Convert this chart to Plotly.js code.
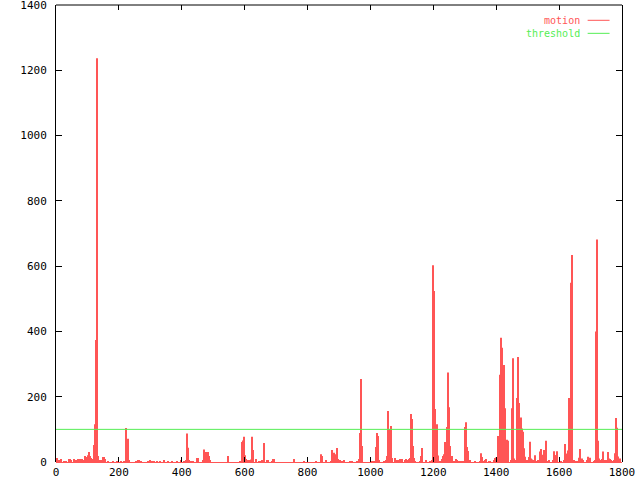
<!DOCTYPE html>
<html>
<head>
<meta charset="utf-8">
<script src="https://cdn.plot.ly/plotly-3.0.1.min.js"></script>
<style>html,body{margin:0;padding:0;background:#fff;}#chart{width:640px;height:480px;}</style>
</head>
<body>
<div id="chart"></div>
<script>
// motion samples (frame, value)
const frames = [3,6,10,16,25,32,41,45,48,57,60,67,70,76,83,86,92,95,99,102,105,108,111,114,121,124,127,130,134,137,143,149,153,156,165,181,194,207,216,223,226,229,232,254,261,264,270,293,299,302,305,312,321,331,343,356,369,385,398,407,413,417,420,423,429,436,448,452,467,471,474,477,480,483,487,490,547,585,588,592,595,598,601,604,607,611,614,617,620,623,626,636,646,652,655,658,661,671,674,687,690,693,757,789,827,843,846,859,875,878,881,884,887,890,894,897,903,910,916,935,941,957,960,964,967,970,973,1005,1008,1011,1014,1018,1021,1024,1027,1043,1046,1049,1053,1056,1059,1062,1065,1069,1078,1084,1091,1094,1097,1100,1110,1113,1116,1123,1126,1129,1132,1135,1139,1142,1158,1161,1164,1177,1189,1193,1196,1199,1202,1205,1208,1212,1215,1218,1221,1224,1228,1231,1234,1237,1240,1243,1247,1250,1253,1256,1259,1266,1272,1275,1278,1285,1291,1298,1301,1304,1307,1310,1313,1317,1332,1348,1352,1355,1361,1364,1367,1377,1380,1393,1396,1399,1402,1406,1409,1412,1415,1418,1422,1425,1428,1431,1434,1437,1447,1450,1453,1457,1463,1466,1469,1472,1476,1479,1482,1485,1488,1492,1498,1501,1504,1507,1511,1514,1520,1523,1530,1533,1536,1539,1542,1546,1549,1552,1555,1558,1565,1568,1581,1584,1587,1590,1593,1606,1616,1619,1622,1625,1628,1631,1635,1638,1641,1647,1651,1654,1660,1663,1666,1673,1676,1689,1692,1698,1711,1714,1717,1720,1724,1727,1730,1733,1736,1740,1743,1749,1752,1755,1759,1762,1765,1771,1775,1778,1781,1784,1787,1790,1794];
const motion = [12,6,5,9,3,3,9,9,5,9,6,5,9,9,9,5,18,15,5,21,31,18,12,9,52,116,374,1237,18,6,5,15,15,9,3,3,3,3,3,104,12,71,5,3,5,5,3,3,5,3,3,3,3,3,5,3,3,3,6,3,5,87,44,6,3,3,12,12,6,38,24,31,28,31,18,6,18,3,3,61,66,77,21,9,5,5,5,5,8,77,37,9,3,3,5,5,58,6,6,3,9,9,9,3,3,24,18,6,3,37,24,28,5,24,43,9,5,3,5,3,3,3,3,9,89,254,49,3,3,3,3,46,89,80,6,3,3,6,18,156,83,101,110,12,12,5,5,9,3,9,5,9,6,9,12,147,132,49,12,3,3,18,43,6,3,3,6,603,524,162,24,116,20,3,3,3,9,18,24,61,49,107,274,168,49,12,18,3,9,6,3,3,3,3,107,122,46,34,3,6,3,3,27,15,3,5,9,3,3,6,12,14,9,80,12,267,381,350,196,297,165,41,68,65,6,165,318,11,6,196,322,181,70,136,103,93,42,16,6,6,15,62,11,8,6,21,3,6,3,32,40,16,22,37,22,65,3,5,5,33,21,21,33,3,6,55,25,25,35,196,113,549,634,6,3,3,3,13,40,11,6,5,16,13,3,6,400,682,65,11,3,6,9,32,6,6,3,31,11,9,6,3,5,27,135,105,17,6,11,6];
const thresholdX = [0, 1800];
const thresholdY = [100, 100];
const xTicks = [0,200,400,600,800,1000,1200,1400,1600,1800];
const yTicks = [0,200,400,600,800,1000,1200,1400];

const RED = '#ff5555';
const GREEN = '#55ee55';
const FONT = 'DejaVu Sans Mono, Liberation Mono, monospace';

const traces = [
  {type:'bar', x:frames, y:motion, width:3.2, name:'motion',
   marker:{color:RED, line:{width:0}}, showlegend:false, hoverinfo:'skip'},
  {type:'scatter', mode:'lines', x:thresholdX, y:thresholdY, name:'threshold',
   line:{color:GREEN, width:1}, showlegend:false, hoverinfo:'skip'}
];

const layout = {
  width:640, height:480,
  margin:{l:56, r:18, t:5, b:18, pad:0},
  paper_bgcolor:'#ffffff', plot_bgcolor:'#ffffff',
  font:{family:FONT, size:11, color:'#000'},
  showlegend:false,
  xaxis:{range:[0,1800], tickvals:xTicks, ticktext:xTicks.map(String),
    ticks:'inside', ticklen:5, tickcolor:'#000', tickwidth:1,
    showline:false, mirror:'ticks', showgrid:false, zeroline:false,
    ticklabelstandoff:2, ticklabeloverflow:'allow'},
  yaxis:{range:[0,1400], tickvals:yTicks, ticktext:yTicks.map(String),
    ticks:'inside', ticklen:6, tickcolor:'#000', tickwidth:1,
    showline:true, linecolor:'#000', linewidth:1, mirror:'ticks',
    showgrid:false, zeroline:true, zerolinecolor:RED, zerolinewidth:1,
    ticklabelstandoff:6, ticklabeloverflow:'allow'},
  shapes:[
    {type:'line', xref:'paper', yref:'paper', x0:0, x1:1, y0:1, y1:1, line:{color:'#000', width:1}},
    {type:'line', xref:'paper', yref:'paper', x0:0.9393, x1:0.9780, y0:0.9665, y1:0.9665, line:{color:RED, width:1}},
    {type:'line', xref:'paper', yref:'paper', x0:0.9393, x1:0.9780, y0:0.9380, y1:0.9380, line:{color:GREEN, width:1}}
  ],
  annotations:[
    {xref:'paper', yref:'paper', x:0.9285, y:0.9522, xanchor:'right', yanchor:'middle', align:'right',
     text:'<span style="color:' + RED + '">motion</span><br><span style="color:' + GREEN + '">threshold</span>',
     showarrow:false, font:{family:FONT, size:10, color:RED}}
  ]
};

Plotly.newPlot('chart', traces, layout, {displayModeBar:false});
</script>
</body>
</html>
